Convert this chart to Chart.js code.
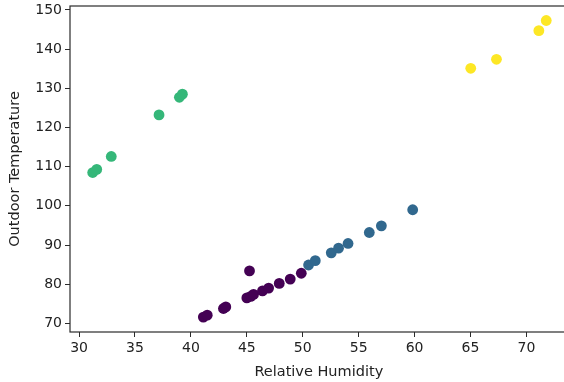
<!DOCTYPE html>
<html>
<head>
<meta charset="utf-8">
<script src="https://cdn.jsdelivr.net/npm/chart.js@4/dist/chart.umd.min.js"></script>
<style>
    html, body { margin: 0; padding: 0; background: #fff; overflow: hidden; }
    #wrap { width: 573px; height: 382px; }
</style>
</head>
<body>
<div id="wrap"><canvas id="scatterChart" width="573" height="382"></canvas></div>
<script>
// one array pair per cluster
const cluster0X = [41.11, 41.46, 42.91, 43.12, 45.0, 45.35, 45.6, 45.24, 46.4, 46.95, 47.9, 48.88, 49.87];
const cluster0Y = [71.6, 72.1, 73.8, 74.2, 76.5, 76.9, 77.4, 83.4, 78.3, 79.0, 80.2, 81.3, 82.8];
const cluster1X = [50.52, 51.12, 52.55, 53.2, 54.05, 55.95, 57.03, 59.83];
const cluster1Y = [84.9, 86.0, 88.0, 89.2, 90.4, 93.2, 94.9, 99.0];
const cluster2X = [31.22, 31.58, 32.88, 37.15, 38.97, 39.24];
const cluster2Y = [108.5, 109.3, 112.6, 123.2, 127.7, 128.5];
const cluster3X = [65.02, 67.32, 71.11, 71.77];
const cluster3Y = [135.1, 137.4, 144.7, 147.3];

const clusterColors = ["#440154", "#31688e", "#35b779", "#fde725"];
const xTicks = [30, 35, 40, 45, 50, 55, 60, 65, 70];
const yTicks = [70, 80, 90, 100, 110, 120, 130, 140, 150];

const toPoints = (xs, ys) => xs.map((x, i) => ({ x, y: ys[i] }));

const clusters = [
    toPoints(cluster0X, cluster0Y),
    toPoints(cluster1X, cluster1Y),
    toPoints(cluster2X, cluster2Y),
    toPoints(cluster3X, cluster3Y)
];

// matplotlib style box round the plot area
const frame = {
    id: "frame",
    afterDraw(chart) {
        const { ctx, chartArea } = chart;
        ctx.save();
        ctx.strokeStyle = "#2b2b2b";
        ctx.lineWidth = 1.2;
        ctx.strokeRect(chartArea.left, chartArea.top,
            chartArea.right - chartArea.left, chartArea.bottom - chartArea.top);
        ctx.restore();
    }
};

// keep the axis boxes fixed and stop label overhang from shrinking the plot
const noPadding = (scale) => {
    scale.paddingTop = 0;
    scale.paddingBottom = 0;
    scale.paddingLeft = 0;
    scale.paddingRight = 0;
};

const tickFont = { family: "DejaVu Sans", size: 14 };
const titleFont = { family: "DejaVu Sans", size: 14.5 };

new Chart(document.getElementById("scatterChart"), {
    type: "scatter",
    data: {
        datasets: clusters.map((pts, i) => ({
            data: pts,
            backgroundColor: clusterColors[i],
            borderWidth: 0,
            pointRadius: 5.4,
            pointHoverRadius: 5.4
        }))
    },
    options: {
        responsive: false,
        animation: false,
        devicePixelRatio: 1,
        layout: { padding: { top: 6, right: 0, bottom: 0, left: 0 } },
        plugins: {
            legend: { display: false },
            tooltip: { enabled: false }
        },
        scales: {
            x: {
                type: "linear",
                min: 29.19,
                max: 73.68,
                afterBuildTicks: (scale) => { scale.ticks = xTicks.map(v => ({ value: v })); },
                afterFit: (scale) => { scale.height = 50; noPadding(scale); },
                border: { display: false },
                grid: { drawOnChartArea: false, drawTicks: true, tickLength: 5, color: "#2b2b2b", lineWidth: 1 },
                ticks: { color: "#222", font: tickFont, padding: 3, maxRotation: 0 },
                title: { display: true, text: "Relative Humidity", color: "#222", font: titleFont, padding: { top: 0, bottom: 1 } }
            },
            y: {
                type: "linear",
                min: 67.8,
                max: 151.0,
                afterBuildTicks: (scale) => { scale.ticks = yTicks.map(v => ({ value: v })); },
                afterFit: (scale) => { scale.width = 70; noPadding(scale); },
                border: { display: false },
                grid: { drawOnChartArea: false, drawTicks: true, tickLength: 5, color: "#2b2b2b", lineWidth: 1 },
                ticks: { color: "#222", font: tickFont, padding: 3 },
                title: { display: true, text: "Outdoor Temperature", color: "#222", font: titleFont, padding: { top: 7, bottom: 0 } }
            }
        }
    },
    plugins: [frame]
});
</script>
</body>
</html>
